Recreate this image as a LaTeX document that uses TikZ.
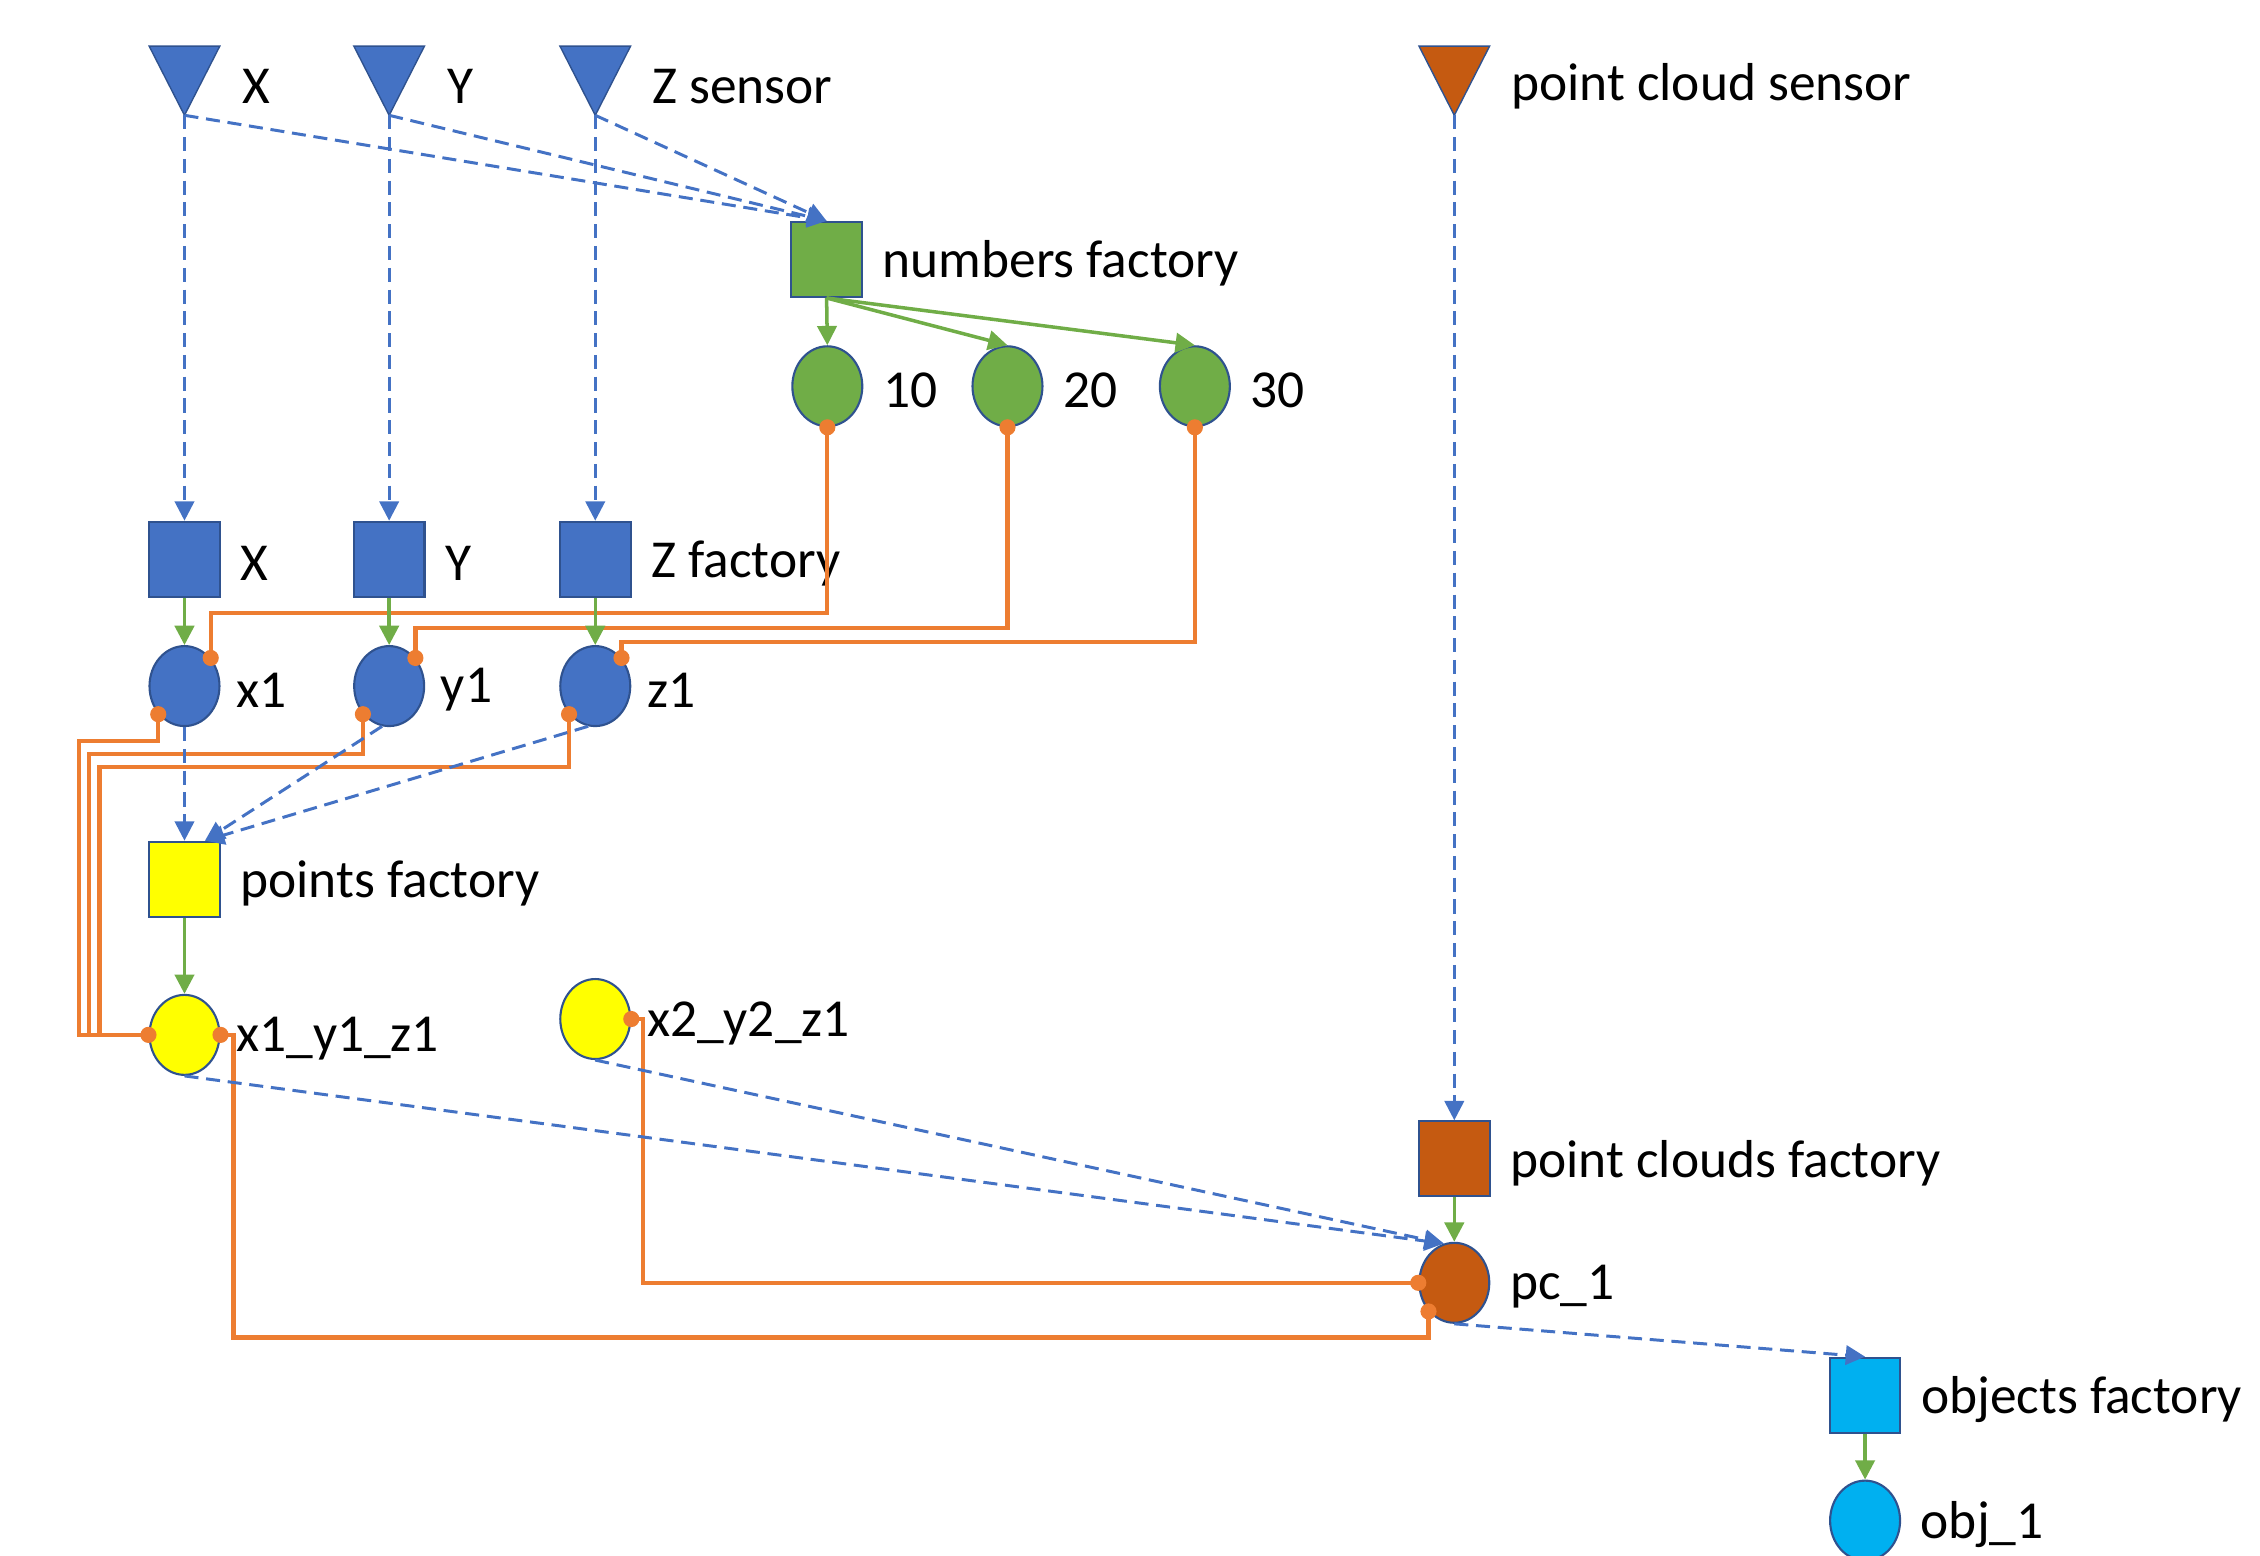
\documentclass[tikz,border=0pt]{standalone}
\usepackage{fontspec}
\setmainfont{Carlito}
\usetikzlibrary{arrows.meta,shapes.geometric}
\definecolor{cblue}{HTML}{4472C4}
\definecolor{cgreen}{HTML}{70AD47}
\definecolor{corange}{HTML}{ED7D31}
\definecolor{cbrown}{HTML}{C55A11}
\definecolor{cyellow}{HTML}{FFFF00}
\definecolor{ccyan}{HTML}{00B0F0}
\definecolor{cborder}{HTML}{2F528F}
\begin{document}
\begin{tikzpicture}[x=0.014413cm,y=-0.014413cm,
  font=\fontsize{15.2}{18}\selectfont,
  fac/.style={rectangle, draw=cborder, line width=0.6pt, minimum width=0.706cm, minimum height=0.75cm, inner sep=0pt},
  obj/.style={ellipse, draw=cborder, line width=0.6pt, minimum width=0.70cm, minimum height=0.80cm, inner sep=0pt},
  lbl/.style={anchor=west, inner sep=0pt},
  every label/.style={inner sep=0pt, yshift=-0.04cm},
  label distance=0.19cm,
  bdash/.style={cblue, line width=0.85pt, dash pattern=on 4pt off 2.2pt, -{Triangle[width=5.5pt,length=5.5pt]}},
  garr/.style={cgreen, line width=1pt, -{Triangle[width=5.5pt,length=5.5pt]}},
  oline/.style={corange, line width=1.2pt},
  sensor/.style={draw=cborder, line width=0.4pt}
]
\useasboundingbox (0,0) rectangle (1568,1079);

% sensors
\fill[cblue, sensor] (103.5,32) -- (152.5,32) -- (128,80) -- cycle;
\fill[cblue, sensor] (245.5,32) -- (294.5,32) -- (270,80) -- cycle;
\fill[cblue, sensor] (388.5,32) -- (437.5,32) -- (413,80) -- cycle;
\fill[cbrown, sensor] (984.5,32) -- (1033.5,32) -- (1009,80) -- cycle;
\coordinate (sX) at (128,80);
\coordinate (sY) at (270,80);
\coordinate (sZ) at (413,80);
\coordinate (sP) at (1009,80);
\node[lbl] (lsX) at (168,60) {X};
\node[lbl] (lsY) at (310,60) {Y};
\node[lbl] (lsZ) at (452,60) {Z sensor};
\node[lbl] (lsP) at (1048,60) {point cloud sensor};

% factories and objects
\node[fac, fill=cgreen, draw=cborder] (nf) at (573.5,180) [label={right:numbers factory}] {};
\node[obj, fill=cgreen] (n10) at (574,268) [label={right:10}] {};
\node[obj, fill=cgreen] (n20) at (699,268) [label={right:20}] {};
\node[obj, fill=cgreen] (n30) at (829,268) [label={right:30}] {};

\node[fac, fill=cblue] (fX) at (128,388) [label={right:X}] {};
\node[fac, fill=cblue] (fY) at (270,388) [label={right:Y}] {};
\node[fac, fill=cblue] (fZ) at (413,388) [label={right:Z factory}] {};

\node[obj, fill=cblue] (x1) at (128,476) [label={[label distance=0.15cm]right:x1}] {};
\node[obj, fill=cblue] (y1) at (270,476) [label={[label distance=0.15cm]right:y1}] {};
\node[obj, fill=cblue] (z1) at (413,476) [label={[label distance=0.15cm]right:z1}] {};

\node[fac, fill=cyellow] (pf) at (128,610) [label={right:points factory}] {};
\node[obj, fill=cyellow] (xyz) at (128,718) [label={[label distance=0.15cm]right:x1\_y1\_z1}] {};
\node[obj, fill=cyellow] (x2) at (413,707) [label={[label distance=0.15cm]right:x2\_y2\_z1}] {};

\node[fac, fill=cbrown] (pcf) at (1009,804) [label={right:point clouds factory}] {};
\node[obj, fill=cbrown] (pc1) at (1009,890) [label={right:pc\_1}] {};

\node[fac, fill=ccyan] (of) at (1294,968) [label={right:objects factory}] {};
\node[obj, fill=ccyan] (ob1) at (1294,1055) [label={right:obj\_1}] {};

% helper corners
\coordinate (b1) at (55,514);
\coordinate (b2) at (62,523);
\coordinate (b3) at (69,532);
\coordinate (b4) at (162,928);
\coordinate (b5) at (446,890);

% orange connectors
\draw[oline] (n10.south) -- ++(0,129) -| (x1.47);
\draw[oline] (n20.south) -- ++(0,139) -| (y1.47);
\draw[oline] (n30.south) -- ++(0,149) -| (z1.47);
\draw[oline] (x1.227) |- (b1) |- (xyz.west);
\draw[oline] (y1.227) |- (b2) |- (xyz.west);
\draw[oline] (z1.227) |- (b3) |- (xyz.west);
\draw[oline] (xyz.east) -| (b4) -| (pc1.228);
\draw[oline] (x2.east) -| (b5) |- (pc1.west);

% blue dashed connectors
\draw[bdash] (sX) -- (nf.north);
\draw[bdash] (sY) -- (nf.north);
\draw[bdash] (sZ) -- (nf.north);
\draw[bdash] (sX) -- (fX.north);
\draw[bdash] (sY) -- (fY.north);
\draw[bdash] (sZ) -- (fZ.north);
\draw[bdash] (sP) -- (pcf.north);
\draw[bdash] (x1.south) -- (pf.north);
\draw[bdash] (y1.260) -- (pf.62);
\draw[bdash] (z1.260) -- (pf.62);
\draw[bdash] (xyz.south) -- (pc1.105);
\draw[bdash] (x2.south) -- (pc1.105);
\draw[bdash] (pc1.south) -- (of.north);

% green connectors
\draw[garr] (nf.south) -- (n10.north);
\draw[garr] (nf.south) -- (n20.north);
\draw[garr] (nf.south) -- (n30.north);
\draw[garr] (fX.south) -- (x1.north);
\draw[garr] (fY.south) -- (y1.north);
\draw[garr] (fZ.south) -- (z1.north);
\draw[garr] (pf.south) -- (xyz.north);
\draw[garr] (pcf.south) -- (pc1.north);
\draw[garr] (of.south) -- (ob1.north);

% connector end dots
\foreach \p in {n10.south,n20.south,n30.south,x1.47,y1.47,z1.47,x1.227,y1.227,z1.227,xyz.west,xyz.east,x2.east,pc1.west,pc1.228}
  \fill[corange] (\p) circle (2.3pt);
\end{tikzpicture}
\end{document}
